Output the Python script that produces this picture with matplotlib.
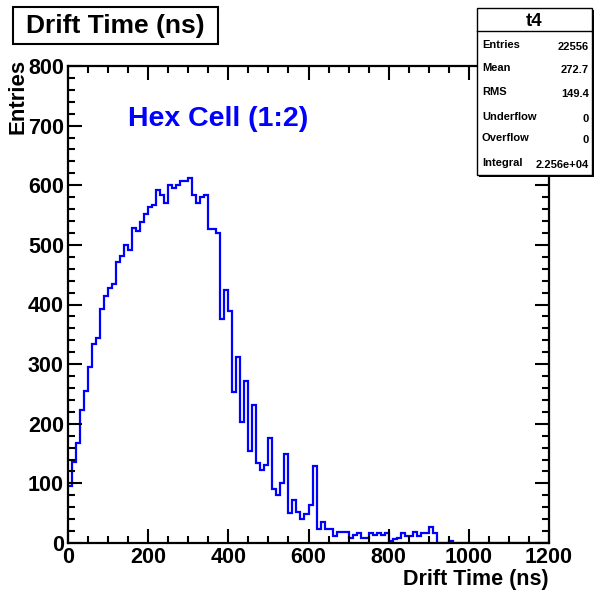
import numpy as np
import matplotlib
matplotlib.use("Agg")
import matplotlib.pyplot as plt
from matplotlib.ticker import MultipleLocator
from matplotlib.patches import Rectangle

plt.rcParams['font.family'] = ['Liberation Sans', 'DejaVu Sans']
plt.rcParams['font.weight'] = 'bold'

# ---- data ----
bin_width = 10
x_min, x_max = 0, 1200
counts = [
    95, 136, 167, 223, 255, 295, 333, 344, 393, 415,
    428, 435, 472, 482, 500, 491, 528, 523, 539, 552,
    564, 567, 592, 583, 571, 601, 596, 600, 607, 607,
    612, 583, 571, 581, 583, 527, 527, 520, 376, 425,
    389, 253, 312, 203, 271, 155, 232, 134, 123, 131,
    176, 90, 80, 100, 149, 51, 72, 52, 40, 48,
    63, 129, 23, 36, 24, 24, 12, 18, 18, 18,
    9, 13, 17, 9, 9, 17, 13, 17, 13, 17,
    4, 6, 9, 16, 11, 11, 19, 11, 16, 16,
    27, 16, 0, 0, 0, 3, 0, 0, 0, 0,
    0, 0, 0, 0, 0, 0, 0, 0, 0, 0,
    0, 0, 0, 0, 0, 0, 0, 0, 0, 0,
]
title = "Drift Time (ns)"
x_title = "Drift Time (ns)"
y_title = "Entries"
annotation = "Hex Cell (1:2)"
stats_name = "t4"
stats_labels = ["Entries", "Mean", "RMS", "Underflow", "Overflow", "Integral"]
stats_values = ["22556", "272.7", "149.4", "0", "0", "2.256e+04"]

edges = np.arange(x_min, x_max + bin_width, bin_width)

W = H = 594
fig = plt.figure(figsize=(W / 100, H / 100), dpi=100)
fig.patch.set_facecolor('white')

L, R, T, B = 68, 549, 66, 543
ax = fig.add_axes([L / W, 1 - B / H, (R - L) / W, (B - T) / H])
ax.stairs(counts, edges, color='#0000ff', lw=1.6, baseline=None)
ax.set_xlim(x_min, x_max)
ax.set_ylim(0, 800)

ax.xaxis.set_major_locator(MultipleLocator(200))
ax.xaxis.set_minor_locator(MultipleLocator(50))
ax.yaxis.set_major_locator(MultipleLocator(100))
ax.yaxis.set_minor_locator(MultipleLocator(20))
ax.tick_params(which='both', direction='in', top=True, right=True, width=1.5, color='black')
ax.tick_params(which='major', length=10)
ax.tick_params(which='minor', length=5)
ax.tick_params(axis='x', which='major', labelsize=15.5, pad=3)
ax.tick_params(axis='y', which='major', labelsize=15.5, pad=3)
for s in ax.spines.values():
    s.set_linewidth(1.6)

ax.text(150, 700, annotation, color='#0000ff', fontsize=20.5, fontweight='bold',
        ha='left', va='baseline')

# axis titles
fig.text(549 / W, 1 - 580 / H, x_title, ha='right', va='center', fontsize=15.5, fontweight='bold')
fig.text(18 / W, 1 - 59 / H, y_title, ha='center', va='top', rotation=90, fontsize=16, fontweight='bold')

# title box
fig.patches.append(Rectangle((13 / W, 1 - 44 / H), (218 - 13) / W, (44 - 7) / H,
                             transform=fig.transFigure, facecolor='white', edgecolor='black', lw=1.5, zorder=5))
fig.text(115 / W, 1 - 26 / H, title, ha='center', va='center', fontsize=19, fontweight='bold', zorder=6)

# stats box with shadow
fig.patches.append(Rectangle((479 / W, 1 - 177 / H), (596 - 479) / W, (177 - 10) / H,
                             transform=fig.transFigure, facecolor='black', edgecolor='black', lw=0, zorder=5))
fig.patches.append(Rectangle((477 / W, 1 - 175 / H), (592 - 477) / W, (175 - 8) / H,
                             transform=fig.transFigure, facecolor='white', edgecolor='black', lw=1.0, zorder=6))
fig.lines.append(plt.Line2D([477 / W, 592 / W], [1 - 31 / H, 1 - 31 / H], transform=fig.transFigure,
                            color='black', lw=1.0, zorder=7))
fig.text(534 / W, 1 - 21 / H, stats_name, ha='center', va='center', fontsize=13.5, fontweight='bold', zorder=7)
row_y = [45, 68, 92, 117, 138, 163]
for lab, val, yy in zip(stats_labels, stats_values, row_y):
    fig.text(482 / W, 1 - yy / H, lab, ha='left', va='center', fontsize=8, fontweight='bold', zorder=7)
    fig.text(589 / W, 1 - (yy + 2) / H, val, ha='right', va='center', fontsize=8, fontweight='bold', zorder=7)

fig.savefig("out.png", dpi=100, facecolor='white')
